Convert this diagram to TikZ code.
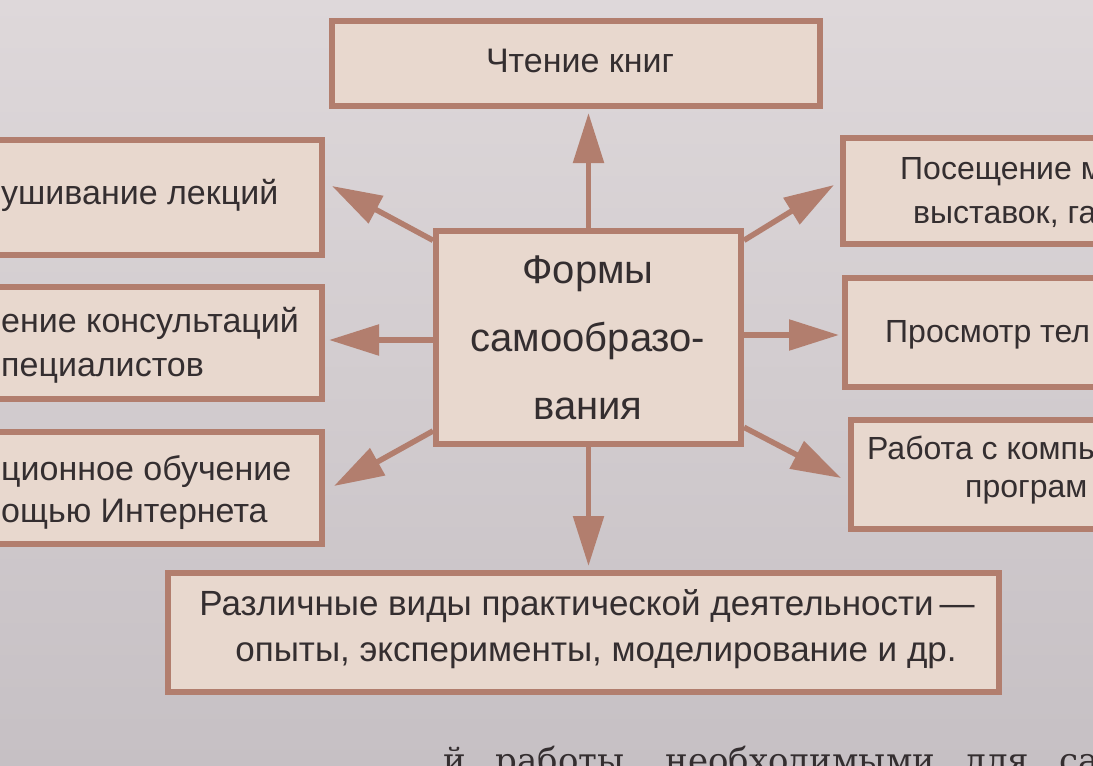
\documentclass[tikz,border=0pt]{standalone}
\usepackage{fontspec}
\setmainfont{Liberation Sans}
\newfontfamily\bookfont{DejaVu Serif}
\usetikzlibrary{arrows.meta}
\definecolor{papertop}{RGB}{222,216,218}
\definecolor{paperbot}{RGB}{198,192,196}
\definecolor{boxfill}{RGB}{232,216,206}
\definecolor{boxline}{RGB}{178,126,110}
\definecolor{ink}{RGB}{52,46,48}
\newcommand{\widegap}{\hspace{30pt}}
\tikzset{
  form/.style={draw=boxline, line width=6pt, fill=boxfill, inner sep=0pt},
  lbl/.style={text=ink, inner sep=0pt, font=\fontsize{34}{46}\selectfont},
  oneline/.style={lbl, text height=24pt, text depth=7pt},
  farline/.style={oneline, anchor=west, font=\fontsize{32}{44}\selectfont},
  arr/.style={draw=boxline, line width=5.5pt, -{Triangle[length=50pt,width=30pt]}}
}
\begin{document}
\begin{tikzpicture}[x=1pt,y=-1pt]
\useasboundingbox (0,0) rectangle (1093,766);
\clip (0,0) rectangle (1093,766);
\shade[top color=papertop, bottom color=paperbot] (0,0) rectangle (1093,766);

% boxes
\node [form, minimum width=488pt, minimum height=85pt] (top) at (576,63.5) {};
\node [form, minimum width=305pt, minimum height=213pt] (ctr) at (588.5,337.5) {};
\node [form, minimum width=339pt, minimum height=115pt] (l1) at (152.5,197.5) {};
\node [form, minimum width=339pt, minimum height=112pt] (l2) at (152.5,343) {};
\node [form, minimum width=339pt, minimum height=112pt] (l3) at (152.5,488) {};
\node [form, minimum width=300pt, minimum height=106pt] (r1) at (993,191) {};
\node [form, minimum width=300pt, minimum height=109pt] (r2) at (995,332.5) {};
\node [form, minimum width=300pt, minimum height=109pt] (r3) at (1001,474.5) {};
\node [form, minimum width=831pt, minimum height=119pt] (bot) at (583.5,632.5) {};

% texts
\node [oneline] (toptxt) at (580,64) {Чтение книг};
\node [lbl, align=center, font=\fontsize{40}{68}\selectfont] (ctrtxt) at (588,338) {Формы\\самообразо-\\вания};
\node [oneline, anchor=west] (l1a) at (1,196) {ушивание лекций};
\node [oneline, anchor=west] (l2a) at (1,324) {ение консультаций};
\node [oneline, anchor=west] (l2b) at (1,368) {пециалистов};
\node [oneline, anchor=west] (l3a) at (1,472) {ционное обучение};
\node [oneline, anchor=west] (l3b) at (1,514) {ощью Интернета};
\node [farline] (r1a) at (900,171) {Посещение м};
\node [farline] (r1b) at (913,215) {выставок, га};
\node [farline] (r2a) at (885,334) {Просмотр тел};
\node [farline] (r3a) at (867,451) {Работа с компь};
\node [farline] (r3b) at (965,489) {програм};
\node [oneline, font=\fontsize{35}{46}\selectfont] (bota) at (587,607) {Различные виды практической деятельности\,—};
\node [oneline, font=\fontsize{35}{46}\selectfont] (botb) at (596,653) {опыты, эксперименты, моделирование и др.};
\node [anchor=base west, inner sep=0pt, text=ink, font=\bookfont\fontsize{34}{40}\selectfont] (page) at (443,772) {й\widegap работы,\widegap необходимыми\widegap для\widegap са};

% arrows
\coordinate (upend) at (588.5,113);
\coordinate (ulend) at (332,186);
\coordinate (lend) at (329,340);
\coordinate (llend) at (334,486);
\coordinate (urend) at (834,185);
\coordinate (rend) at (839,335);
\coordinate (lrend) at (841,478);
\coordinate (dnend) at (588.5,566);
\draw [arr] (ctr.north) -- (upend);
\draw [arr] (ctr.148) -- (ulend);
\draw [arr] (ctr.west |- lend) -- (lend);
\draw [arr] (ctr.211) -- (llend);
\draw [arr] (ctr.32) -- (urend);
\draw [arr] (ctr.east |- rend) -- (rend);
\draw [arr] (ctr.330) -- (lrend);
\draw [arr] (ctr.south) -- (dnend);
\end{tikzpicture}
\end{document}
